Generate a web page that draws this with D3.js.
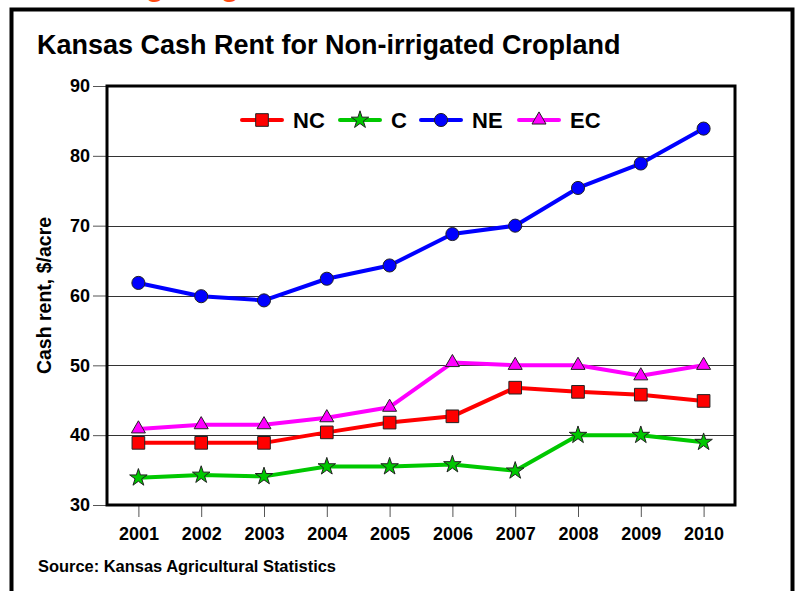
<!DOCTYPE html>
<html>
<head>
<meta charset="utf-8">
<script src="https://cdn.jsdelivr.net/npm/d3@7"></script>
<style>
  body { margin: 0; background: #fff; }
  svg { display: block; }
  text { font-family: "Liberation Sans", Arial, sans-serif; font-weight: bold; }
</style>
</head>
<body>
<svg id="chart" width="802" height="591"></svg>
<script>
// chart data
var years = ["2001", "2002", "2003", "2004", "2005", "2006", "2007", "2008", "2009", "2010"];
var nc = [38.9, 38.9, 38.9, 40.4, 41.8, 42.7, 46.8, 46.2, 45.8, 44.9];
var c  = [33.9, 34.3, 34.1, 35.5, 35.5, 35.8, 34.9, 40.0, 40.0, 39.0];
var ne = [61.8, 59.9, 59.3, 62.4, 64.3, 68.8, 70.0, 75.4, 78.9, 83.9];
var ec = [40.9, 41.5, 41.5, 42.5, 44.0, 50.4, 50.0, 50.0, 48.5, 50.0];
var yTicks = [30, 40, 50, 60, 70, 80, 90];

var series = [
    { name: "NC", values: nc, color: "#ff0000", symbol: d3.symbolSquare, size: 160 },
    { name: "C",  values: c,  color: "#00c800", symbol: d3.symbolStar, size: 95 },
    { name: "NE", values: ne, color: "#0000ff", symbol: d3.symbolCircle, size: 135 },
    { name: "EC", values: ec, color: "#ff00ff", symbol: d3.symbolTriangle, size: 85 }
];

function draw() {
    var svg = d3.select("#chart");
    var pLeft = 107, pRight = 735, pTop = 86, pBottom = 505;

    var x = d3.scalePoint().domain(years).range([pLeft, pRight]).padding(0.5);
    var y = d3.scaleLinear().domain([30, 90]).range([pBottom, pTop]);

    // header remnant in orange (cut off at the top of the slide)
    svg.append("text").attr("x", 155).attr("y", -4).attr("text-anchor", "middle")
        .attr("font-size", 30).attr("fill", "#ff4a12").text("g");
    svg.append("text").attr("x", 230).attr("y", -4).attr("text-anchor", "middle")
        .attr("font-size", 30).attr("fill", "#ff4a12").text("g");

    // outer frame
    svg.append("rect")
        .attr("x", 11.5).attr("y", 9.5).attr("width", 781).attr("height", 620)
        .attr("fill", "none").attr("stroke", "#000").attr("stroke-width", 4);

    svg.append("text")
        .attr("x", 37).attr("y", 54)
        .attr("font-size", 27)
        .text("Kansas Cash Rent for Non-irrigated Cropland");

    // gridlines
    svg.append("g").selectAll("line")
        .data(yTicks.filter(function(d) { return d > 30 && d < 90; }))
        .enter().append("line")
        .attr("x1", pLeft).attr("x2", pRight)
        .attr("y1", function(d) { return Math.round(y(d)) + 0.5; })
        .attr("y2", function(d) { return Math.round(y(d)) + 0.5; })
        .attr("stroke", "#333").attr("stroke-width", 1);

    // y axis
    var yAxis = svg.append("g")
        .attr("transform", "translate(" + pLeft + ",0)")
        .call(d3.axisLeft(y).tickValues(yTicks).tickSize(14).tickPadding(3));
    yAxis.select(".domain").remove();
    yAxis.selectAll(".tick line").attr("stroke", "#555");
    yAxis.selectAll(".tick text").attr("font-size", 18).attr("fill", "#000")
        .attr("font-family", "Liberation Sans, Arial, sans-serif").attr("font-weight", "bold");

    // x axis
    var xAxis = svg.append("g")
        .attr("transform", "translate(0," + pBottom + ")")
        .call(d3.axisBottom(x).tickSize(12).tickPadding(10));
    xAxis.select(".domain").remove();
    xAxis.selectAll(".tick line").attr("stroke", "#555");
    xAxis.selectAll(".tick text").attr("font-size", 18).attr("fill", "#000")
        .attr("font-family", "Liberation Sans, Arial, sans-serif").attr("font-weight", "bold");

    // plot frame
    svg.append("rect")
        .attr("x", pLeft).attr("y", pTop).attr("width", pRight - pLeft).attr("height", pBottom - pTop)
        .attr("fill", "none").attr("stroke", "#000").attr("stroke-width", 3);

    svg.append("text")
        .attr("transform", "translate(51," + ((pTop + pBottom) / 2) + ") rotate(-90)")
        .attr("text-anchor", "middle")
        .attr("font-size", 19.5)
        .text("Cash rent, $/acre");

    svg.append("text")
        .attr("x", 38).attr("y", 572)
        .attr("font-size", 16)
        .attr("textLength", 298)
        .attr("lengthAdjust", "spacingAndGlyphs")
        .text("Source:  Kansas Agricultural Statistics");

    // lines + markers
    var line = d3.line()
        .x(function(d, i) { return x(years[i]); })
        .y(function(d) { return y(d); });

    series.forEach(function(s) {
        svg.append("path")
            .datum(s.values)
            .attr("d", line)
            .attr("fill", "none")
            .attr("stroke", s.color)
            .attr("stroke-width", 4)
            .attr("stroke-linejoin", "round");
        svg.append("g").selectAll("path")
            .data(s.values)
            .enter().append("path")
            .attr("transform", function(d, i) { return "translate(" + x(years[i]) + "," + y(d) + ")"; })
            .attr("d", d3.symbol().type(s.symbol).size(s.size))
            .attr("fill", s.color)
            .attr("stroke", "#222")
            .attr("stroke-width", 1);
    });

    // legend
    var legendX = [242, 340, 421, 519];
    var legend = svg.append("g").selectAll("g")
        .data(series)
        .enter().append("g")
        .attr("transform", function(d, i) { return "translate(" + legendX[i] + ",120)"; });
    legend.append("line")
        .attr("x1", 0).attr("x2", 40)
        .attr("stroke", function(d) { return d.color; })
        .attr("stroke-width", 4).attr("stroke-linecap", "round");
    legend.append("path")
        .attr("transform", "translate(20,0)")
        .attr("d", function(d) { return d3.symbol().type(d.symbol).size(d.size)(); })
        .attr("fill", function(d) { return d.color; })
        .attr("stroke", "#222").attr("stroke-width", 1);
    legend.append("text")
        .attr("x", 51).attr("y", 8)
        .attr("font-size", 22)
        .text(function(d) { return d.name; });
}

draw();
</script>
</body>
</html>
